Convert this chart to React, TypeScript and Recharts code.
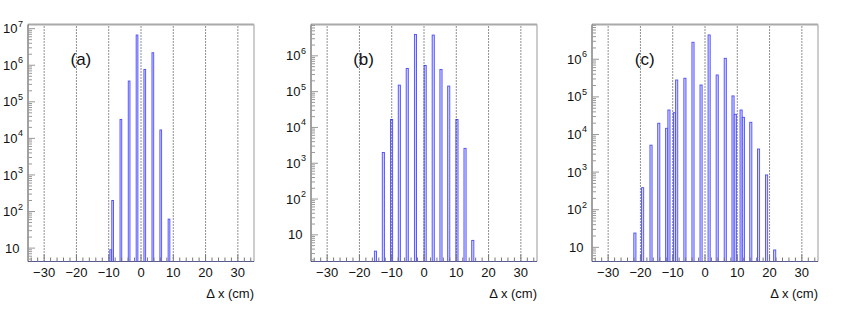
import React from "react";
import { ComposedChart, Bar, XAxis, YAxis, ReferenceLine, Label } from "recharts";

// bin centres (cm) and counts
const xA = [-9.35, -8.75, -6.2, -3.65, -1.2, 1.2, 3.7, 6.15, 8.7];
const yA = [9, 200, 33000, 370000, 6700000, 770000, 2200000, 17000, 62];

const xB = [-15.1, -12.65, -10.1, -7.7, -5.25, -2.7, 0.3, 2.8, 5.2, 7.6, 10.15, 12.65, 15.05];
const yB = [3.5, 2000, 16700, 152000, 444000, 3960000, 540000, 3800000, 417000, 143000, 16700, 2600, 7];

const xC = [
  -21.7, -19.3, -16.7, -14.3, -11.85, -11.15, -9.45, -8.75, -6.2, -3.7, -1.2,
  1.3, 3.8, 6.3, 8.7, 9.4, 11.2, 11.9, 14.2, 16.6, 19.1, 21.6,
];
const yC = [
  24, 385, 5200, 19900, 14600, 44800, 38000, 281000, 313000, 2830000, 207000,
  4430000, 382000, 1060000, 106000, 34400, 44800, 28600, 21100, 4100, 840, 8.5,
];

const panelLabels = ["(a)", "(b)", "(c)"];
const xTitle = "\u0394 x (cm)";
const xMajorTicks = [-30, -20, -10, 0, 10, 20, 30];
const xMinorTicks = [-34, -32, -28, -26, -24, -22, -18, -16, -14, -12, -8, -6, -4, -2, 2, 4, 6, 8, 12, 14, 16, 18, 22, 24, 26, 28, 32, 34];

const FONT = '"Liberation Sans", Arial, Helvetica, sans-serif';
const X_MIN = -35;
const X_MAX = 35;
const PANEL_W = 282;
const PLOT_LEFT = 28;
const PLOT_W = 226;
const BIN = 0.66;
const BAR_PX = (BIN * PLOT_W) / (X_MAX - X_MIN);

const logMinor = (lo: number, hi: number) => {
  const out: number[] = [];
  for (let e = Math.floor(Math.log10(lo)); e <= Math.ceil(Math.log10(hi)); e++) {
    for (let m = 1; m <= 9; m++) {
      const v = m * Math.pow(10, e);
      if (v >= lo && v <= hi) out.push(v);
    }
  }
  return out;
};

const XTick = (props: any) => {
  const { x, y, payload } = props;
  const v = payload.value;
  const major = v % 10 === 0;
  return (
    <g>
      <line x1={x} x2={x} y1={y} y2={y - (major ? 7 : 4)} stroke="#777" />
      {major && (
        <text x={x} y={y + 11} dy="0.35em" textAnchor="middle" fontSize={13} fill="#111" fontFamily={FONT}>
          {v < 0 ? `\u2212${-v}` : `${v}`}
        </text>
      )}
    </g>
  );
};

const YTick = (props: any) => {
  const { x, y, payload } = props;
  const v = payload.value;
  const lg = Math.log10(v);
  const exp = Math.round(lg);
  const major = Math.abs(lg - exp) < 1e-6;
  return (
    <g>
      <line x1={x} x2={x + (major ? 7 : 4)} y1={y} y2={y} stroke="#999" />
      {major && exp === 1 && (
        <text x={x - 8.5} y={y} dy="0.35em" textAnchor="end" fontSize={13} fill="#111" fontFamily={FONT}>
          10
        </text>
      )}
      {major && exp > 1 && (
        <g fontFamily={FONT} fill="#111">
          <text x={x - 10.5} y={y} dy="0.35em" textAnchor="end" fontSize={13}>
            10
          </text>
          <text x={x - 10} y={y - 2} textAnchor="start" fontSize={9}>
            {exp}
          </text>
        </g>
      )}
    </g>
  );
};

const HistBar = (props: any) => {
  const { x, y, width, height } = props;
  if (!height || height <= 0) return null;
  return <rect x={x} y={y} width={width} height={height} fill="#d2d2ff" stroke="#4c4cff" strokeWidth={0.9} />;
};

const Panel = ({ xs, ys, yDomain, label, left }: { xs: number[]; ys: number[]; yDomain: [number, number]; label: string; left: number }) => {
  const data = xs.map((x, i) => ({ x, count: ys[i] }));
  const yTicks = logMinor(yDomain[0], yDomain[1]);
  return (
    <div style={{ position: "absolute", left, top: 0, width: PANEL_W, height: 312 }}>
      <ComposedChart width={PANEL_W} height={312} data={data} margin={{ top: 24.5, right: PANEL_W - PLOT_LEFT - PLOT_W, bottom: 0, left: 0 }}>
        <XAxis
          type="number"
          dataKey="x"
          domain={[X_MIN, X_MAX]}
          ticks={[...xMajorTicks, ...xMinorTicks].sort((a, b) => a - b)}
          allowDataOverflow
          interval={0}
          height={50.5}
          tickSize={0}
          tickMargin={0}
          tick={<XTick />}
          axisLine={{ stroke: "#5a5a92", strokeWidth: 1.2 }}
          tickLine={false}
        >
          <Label
            content={(p: any) => (
              <text x={p.viewBox.x + p.viewBox.width} y={p.viewBox.y + 36.5} textAnchor="end" fontSize={13} fill="#111" fontFamily={FONT}>
                {xTitle}
              </text>
            )}
          />
        </XAxis>
        <YAxis
          type="number"
          scale="log"
          domain={yDomain}
          ticks={yTicks}
          allowDataOverflow
          interval={0}
          width={PLOT_LEFT}
          tickSize={0}
          tickMargin={0}
          tick={<YTick />}
          axisLine={{ stroke: "#444" }}
          tickLine={false}
        />
        {xMajorTicks.map((v) => (
          <ReferenceLine key={v} x={v} stroke="#222" strokeDasharray="1 2" />
        ))}
        <ReferenceLine y={yDomain[1]} stroke="#aaa" strokeWidth={2} />
        <ReferenceLine x={X_MAX} stroke="#aaa" strokeWidth={1.2} />
        <Bar dataKey="count" barSize={BAR_PX} shape={<HistBar />} isAnimationActive={false} />
      </ComposedChart>
      <div
        style={{
          position: "absolute",
          left: 70.5,
          top: 50,
          fontFamily: FONT,
          fontSize: 17,
          lineHeight: "19px",
          color: "#111",
        }}
      >
        {label}
      </div>
    </div>
  );
};

export default function App() {
  return (
    <div style={{ position: "absolute", left: 0, top: 0, width: 847, height: 312, background: "#fff" }}>
      <Panel xs={xA} ys={yA} yDomain={[4.3, 1.3e7]} label={panelLabels[0]} left={0} />
      <Panel xs={xB} ys={yB} yDomain={[1.8, 7.5e6]} label={panelLabels[1]} left={282.7} />
      <Panel xs={xC} ys={yC} yDomain={[4.2, 8.4e6]} label={panelLabels[2]} left={564.3} />
    </div>
  );
}
